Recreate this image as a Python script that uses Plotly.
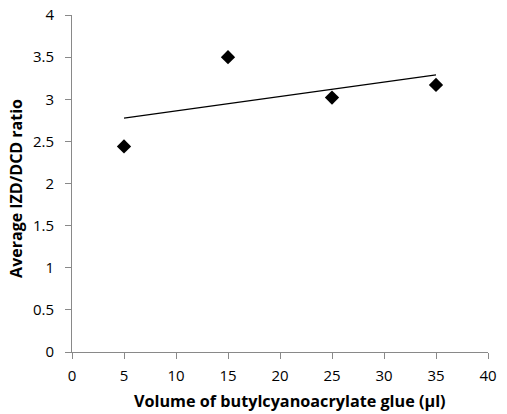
import numpy as np
import plotly.graph_objects as go

volume = [5, 15, 25, 35]
ratio = [2.44, 3.5, 3.02, 3.17]
x_ticks = [0, 5, 10, 15, 20, 25, 30, 35, 40]
y_ticks = [0, 0.5, 1, 1.5, 2, 2.5, 3, 3.5, 4]
x_title = "Volume of butylcyanoacrylate glue (µl)"
y_title = "Average IZD/DCD ratio"

slope, intercept = np.polyfit(volume, ratio, 1)
trend_x = [min(volume), max(volume)]
trend_y = [slope * v + intercept for v in trend_x]

font_family = "Open Sans, Liberation Sans, Arial, sans-serif"

fig = go.Figure()
fig.add_trace(go.Scatter(x=trend_x, y=trend_y, mode="lines",
                         line=dict(color="#000000", width=1.3), showlegend=False))
fig.add_trace(go.Scatter(x=volume, y=ratio, mode="markers",
                         marker=dict(symbol="diamond", size=11, color="#000000"),
                         showlegend=False))

fig.update_layout(
    width=507, height=414,
    margin=dict(l=72, r=19, t=15, b=62),
    paper_bgcolor="white", plot_bgcolor="white",
    font=dict(family=font_family, size=15, color="#000000"),
    xaxis=dict(range=[0, 40], tickvals=x_ticks, ticktext=[str(v) for v in x_ticks],
               automargin=False,
               showgrid=False, zeroline=False, showline=True, linecolor="#898989",
               linewidth=1, ticks="outside", tickcolor="#898989", ticklen=6,
               tickfont=dict(size=15), ticklabelstandoff=4),
    yaxis=dict(range=[0, 4], tickvals=y_ticks, ticktext=[str(v) for v in y_ticks],
               automargin=False,
               showgrid=False, zeroline=False, showline=True, linecolor="#898989",
               linewidth=1, ticks="outside", tickcolor="#898989", ticklen=6,
               tickfont=dict(size=15), ticklabelstandoff=8),
    annotations=[
        dict(text="<b>" + x_title + "</b>", xref="paper", yref="paper",
             x=0.524, y=-0.145, xanchor="center", yanchor="middle",
             showarrow=False, font=dict(size=16.2)),
        dict(text="<b>" + y_title + "</b>", xref="paper", yref="paper",
             x=-0.1346, y=0.484, xanchor="center", yanchor="middle",
             textangle=-90, showarrow=False, font=dict(size=16)),
    ],
)

fig.write_html("out.html", config={"displayModeBar": False},
               post_script="document.body.style.margin='0';document.body.style.padding='0';")
